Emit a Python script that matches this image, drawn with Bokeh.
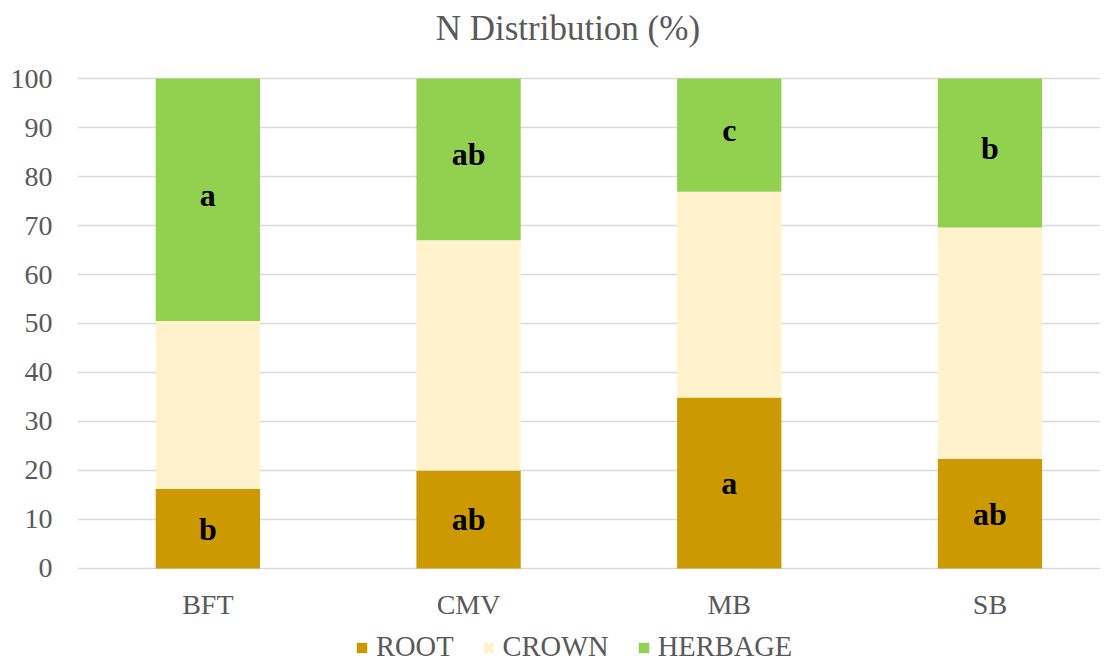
from bokeh.plotting import figure
from bokeh.models import (ColumnDataSource, Range1d, FixedTicker, Legend,
                          LegendItem, Label)
from bokeh.core.properties import value
from bokeh.embed import file_html
from bokeh.resources import INLINE

title_text = "N Distribution (%)"
categories = ["BFT", "CMV", "MB", "SB"]
root = [16.2, 20.0, 34.9, 22.4]
crown = [34.3, 47.0, 42.0, 47.2]
herbage = [49.5, 33.0, 23.1, 30.4]
root_letters = ["b", "ab", "a", "ab"]
herbage_letters = ["a", "ab", "c", "b"]
series = ["ROOT", "CROWN", "HERBAGE"]
colors = ["#CC9900", "#FFF2CC", "#92D050"]
yticks = list(range(0, 101, 10))

FONT = "Liberation Serif"
GREY = "#595959"

xpos = list(range(len(categories)))
source = ColumnDataSource(dict(x=xpos, ROOT=root, CROWN=crown, HERBAGE=herbage))

# frame fills the canvas; the value axis runs 0..100, extra room above/below
# holds the title, category names and legend
p = figure(width=1100, height=663, output_backend="svg", toolbar_location=None,
           x_range=Range1d(-0.5, 3.424), y_range=Range1d(-19.39, 115.92),
           min_border_left=77, min_border_right=0, min_border_top=0,
           min_border_bottom=0)

renderers = p.vbar_stack(series, x="x", width=0.40, color=colors,
                         source=source, line_color=None)

# data labels (segment centres)
root_y = [r / 2 for r in root]
herb_y = [r + c + h / 2 for r, c, h in zip(root, crown, herbage)]
p.text(x=xpos, y=root_y, text=root_letters, text_align="center",
       text_baseline="middle", text_font=value(FONT), text_font_size="32px",
       text_font_style="bold", text_color="black")
p.text(x=xpos, y=herb_y, text=herbage_letters, text_align="center",
       text_baseline="middle", text_font=value(FONT), text_font_size="32px",
       text_font_style="bold", text_color="black", y_offset=-5)

# category labels under the bars
p.text(x=xpos, y=[-7.35] * len(xpos), text=categories, text_align="center",
       text_baseline="middle", text_font=value(FONT), text_font_size="28px",
       text_color=GREY)

# chart title
p.add_layout(Label(x=1.381, y=110.2, text=title_text, text_align="center",
                   text_baseline="middle", text_font=FONT,
                   text_font_size="35px", text_color=GREY))

p.outline_line_color = None
p.xgrid.grid_line_color = None
p.ygrid.grid_line_color = "#D9D9D9"
p.ygrid.grid_line_width = 1.3
p.xaxis.visible = False

p.yaxis.ticker = FixedTicker(ticks=yticks)
p.yaxis.axis_line_color = None
p.yaxis.major_tick_line_color = None
p.yaxis.minor_tick_line_color = None
p.yaxis.major_label_text_font = FONT
p.yaxis.major_label_text_font_size = "28px"
p.yaxis.major_label_text_color = GREY
p.yaxis.major_label_standoff = 19

legend = Legend(items=[LegendItem(label=s, renderers=[r]) for s, r in zip(series, renderers)],
                orientation="horizontal", location=(278, 0))
legend.label_text_font = FONT
legend.label_text_font_size = "28.5px"
legend.label_text_color = GREY
legend.glyph_width = 13
legend.glyph_height = 13
legend.label_standoff = 8
legend.spacing = 28
legend.padding = 0
legend.margin = 0
legend.border_line_color = None
legend.background_fill_color = None
legend.background_fill_alpha = 0
p.add_layout(legend, "center")

open("out.html", "w").write(file_html(p, INLINE))
